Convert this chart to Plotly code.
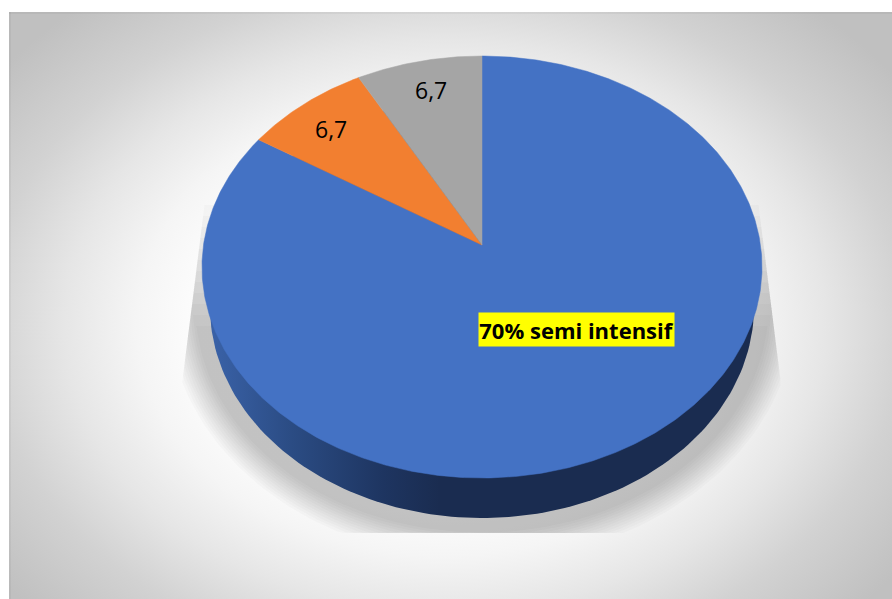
import numpy as np
import plotly.graph_objects as go

categories = ["semi intensif", "kategori 2", "kategori 3"]
values = [70, 6.7, 6.7]
labels = ["70% semi intensif", "6,7", "6,7"]
colors = ["#4472C4", "#F27F30", "#A5A5A5"]

W, H = 892, 599
APEX = (482, 245)
A, B, K = 278.5, 208.7, 0.1043


def face(theta):
    """Perspective projection of the pie's top disc; theta clockwise from top."""
    u, v = np.sin(theta), np.cos(theta)
    d = 1 + K * v
    return APEX[0] + A * u / d, APEX[1] - B * v / d


def ell(cx, cy, rx, ry, n=240):
    t = np.linspace(0, 2 * np.pi, n)
    return cx + rx * np.cos(t), cy + ry * np.sin(t)


fig = go.Figure()

# background
bx, by = 445, 325
brx, bry = 560, 420
fig.add_trace(go.Scatter(
    x=[bx - brx, bx + brx, bx + brx, bx - brx, bx - brx],
    y=[by - bry, by - bry, by + bry, by + bry, by - bry],
    mode="lines", line=dict(width=0), fill="toself", hoverinfo="skip",
    fillgradient=dict(type="radial", colorscale=[
        [0, "#ffffff"], [0.45, "#fcfcfc"], [0.55, "#f5f5f5"], [0.68, "#e6e6e6"],
        [0.82, "#d2d2d2"], [1, "#c0c0c0"]]),
))

# soft shadow beneath the disc, cut off by a trapezoid; inner layers start lower
for i, d in enumerate(np.arange(42, 12, -2.5)):
    x, y = ell(482, 307, 272 + d, 211 + d)
    y2 = np.clip(y, 205 + 11 * i, 533)
    lo = 205 - (y2 - 200) * 22 / 175
    hi = 758 + (y2 - 200) * 22 / 175
    x2 = np.clip(x, lo, hi)
    fig.add_trace(go.Scatter(
        x=x2, y=y2, mode="lines", line=dict(width=0), fill="toself",
        fillcolor="rgba(0,0,0,0.019)", hoverinfo="skip"))

# side wall
wx, wy = ell(482, 307, 272, 211)
fig.add_trace(go.Scatter(
    x=wx, y=wy, mode="lines", line=dict(width=0), fill="toself", hoverinfo="skip",
    fillgradient=dict(type="horizontal", start=210, stop=440, colorscale=[
        [0, "#3A62A8"], [0.35, "#2B4C84"], [0.75, "#1E3561"], [1, "#1A2C50"]]),
))

# top face slices
total = sum(values)
a0 = 0.0
for val, col in zip(values, colors):
    a1 = a0 + 2 * np.pi * val / total
    t = np.linspace(a0, a1, max(3, int(val * 8)))
    fx, fy = face(t)
    fig.add_trace(go.Scatter(
        x=np.r_[APEX[0], fx, APEX[0]], y=np.r_[APEX[1], fy, APEX[1]],
        mode="lines", line=dict(width=0.5, color=col), fill="toself",
        fillcolor=col, hoverinfo="skip"))
    a0 = a1

fig.add_annotation(x=576.5, y=329.5, text="<b>%s</b>" % labels[0], showarrow=False,
                   bgcolor="#FFFF00", width=195, height=33, borderpad=0,
                   font=dict(family="Open Sans", size=22, color="black"))
fig.add_annotation(x=331, y=129, text=labels[1], showarrow=False,
                   font=dict(family="Open Sans", size=23, color="black"))
fig.add_annotation(x=430.5, y=90, text=labels[2], showarrow=False,
                   font=dict(family="Open Sans", size=23, color="black"))

# darker frame edge at the top and left of the chart area
fig.add_shape(type="rect", x0=9, x1=W, y0=12, y1=14, line=dict(width=0),
              fillcolor="rgba(0,0,0,0.04)", layer="above")
fig.add_shape(type="rect", x0=9, x1=11, y0=12, y1=H, line=dict(width=0),
              fillcolor="rgba(0,0,0,0.04)", layer="above")

fig.update_layout(
    width=W, height=H, showlegend=False,
    margin=dict(l=9, r=0, t=12, b=0, pad=0),
    paper_bgcolor="white", plot_bgcolor="white",
    xaxis=dict(range=[9, W], visible=False, fixedrange=True),
    yaxis=dict(range=[H, 12], visible=False, fixedrange=True),
)
fig.write_html("out.html", config=dict(displayModeBar=False),
               post_script="document.body.style.margin='0';")
